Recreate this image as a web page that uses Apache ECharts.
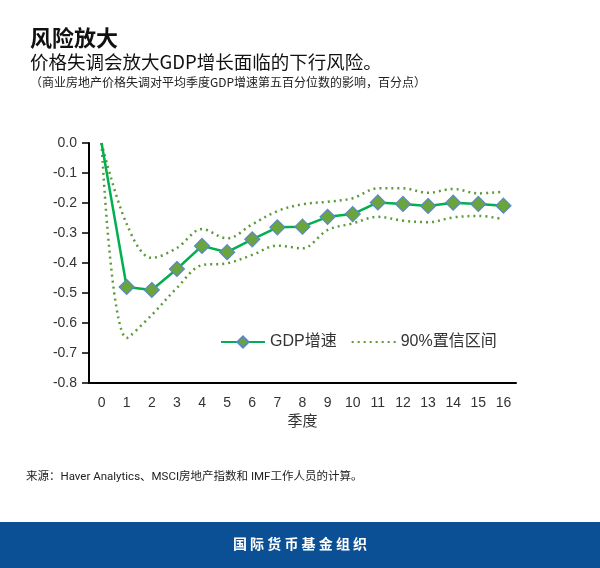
<!DOCTYPE html>
<html><head><meta charset="utf-8">
<script src="https://cdn.jsdelivr.net/npm/echarts@6/dist/echarts.min.js"></script>
<style>html,body{margin:0;padding:0;background:#fff}#c{width:600px;height:568px}</style>
</head><body><div id="c"></div>
<script>
const quarters = ['0','1','2','3','4','5','6','7','8','9','10','11','12','13','14','15','16'];
const gdpGrowth = [0.0,-0.48,-0.49,-0.42,-0.343,-0.364,-0.321,-0.281,-0.279,-0.246,-0.237,-0.198,-0.203,-0.21,-0.199,-0.203,-0.209];
const upperBand = [0.0,-0.27,-0.383,-0.35,-0.287,-0.318,-0.271,-0.227,-0.204,-0.196,-0.184,-0.151,-0.151,-0.166,-0.153,-0.168,-0.162];
const lowerBand = [0.0,-0.65,-0.573,-0.483,-0.407,-0.401,-0.373,-0.342,-0.351,-0.29,-0.268,-0.246,-0.259,-0.264,-0.248,-0.243,-0.254];
const yTicks = ['0.0','-0.1','-0.2','-0.3','-0.4','-0.5','-0.6','-0.7','-0.8'];

const chart = echarts.init(document.getElementById('c'), null, {renderer:'canvas'});
const axisFont = 'Liberation Sans, Arial, Noto Sans CJK SC, sans-serif';
const cjk = 'Noto Sans CJK SC, sans-serif';
const bandColor = '#5e9a38';
chart.setOption({
  animation:false,
  backgroundColor:'#fff',
  title:[
    {text:'风险放大', left:25, top:22, textStyle:{fontFamily:cjk, fontSize:22, fontWeight:'bold', color:'#111'}},
    {text:'价格失调会放大GDP增长面临的下行风险。', left:25, top:48, textStyle:{fontFamily:cjk, fontSize:18.5, fontWeight:'normal', color:'#111'}},
    {text:'（商业房地产价格失调对平均季度GDP增速第五百分位数的影响，百分点）', left:25, top:71, textStyle:{fontFamily:cjk, fontSize:12, fontWeight:'normal', color:'#222'}}
  ],
  graphic:[
    {type:'text', x:26, y:471, style:{text:'来源：Haver Analytics、MSCI房地产指数和 IMF工作人员的计算。', fill:'#222', font:'11.5px Roboto, Noto Sans CJK SC'}},
    {type:'rect', shape:{x:0,y:522,width:600,height:46}, style:{fill:'#0b4f94'}},
    {type:'text', left:'center', top:537, style:{text:'国 际 货 币 基 金 组 织', fill:'#fff', font:'bold 14px Noto Sans CJK SC'}}
  ],
  legend:{
    left:215, top:329, itemGap:14, itemWidth:44, itemHeight:14,
    textStyle:{fontFamily:axisFont, fontSize:16, color:'#333'},
    data:[{name:'GDP增速'},{name:'90%置信区间', itemStyle:{opacity:0}}]
  },
  grid:{left:89, right:84, top:143, bottom:185},
  xAxis:{
    type:'category', data:quarters, boundaryGap:true,
    name:'季度', nameLocation:'middle', nameGap:30,
    nameTextStyle:{fontFamily:cjk, fontSize:15, color:'#333'},
    axisLine:{onZero:false, lineStyle:{color:'#000', width:2}},
    axisTick:{inside:true, length:7, alignWithLabel:false, lineStyle:{color:'#000', width:1.5}},
    axisLabel:{fontFamily:axisFont, fontSize:14, color:'#333', margin:13}
  },
  yAxis:{
    type:'value', min:-0.8, max:0, interval:0.1,
    axisLine:{show:true, lineStyle:{color:'#000', width:2}},
    axisTick:{show:true, length:7, lineStyle:{color:'#000', width:1.5}},
    splitLine:{show:false},
    axisLabel:{fontFamily:axisFont, fontSize:14, color:'#333', margin:12,
      formatter:function(v){ const i = Math.round(-v*10); return yTicks[i]; }}
  },
  series:[
    {name:'90%置信区间', type:'line', data:upperBand, smooth:0.35, symbol:'none',
      lineStyle:{color:bandColor, width:2.5, type:[2,4]}, itemStyle:{color:bandColor}, z:2},
    {name:'90%置信区间', type:'line', data:lowerBand, smooth:0.35, symbol:'none',
      lineStyle:{color:bandColor, width:2.5, type:[2,4]}, itemStyle:{color:bandColor}, z:2},
    {name:'GDP增速', type:'line',
      data:gdpGrowth.map((v,i)=> i===0 ? {value:v, symbol:'none'} : v),
      symbol:'diamond', symbolSize:15, showAllSymbol:true,
      lineStyle:{color:'#00b050', width:2.5},
      itemStyle:{color:'#6aa43c', borderColor:'#5b87c8', borderWidth:1.2}, z:3}
  ]
});
</script></body></html>
